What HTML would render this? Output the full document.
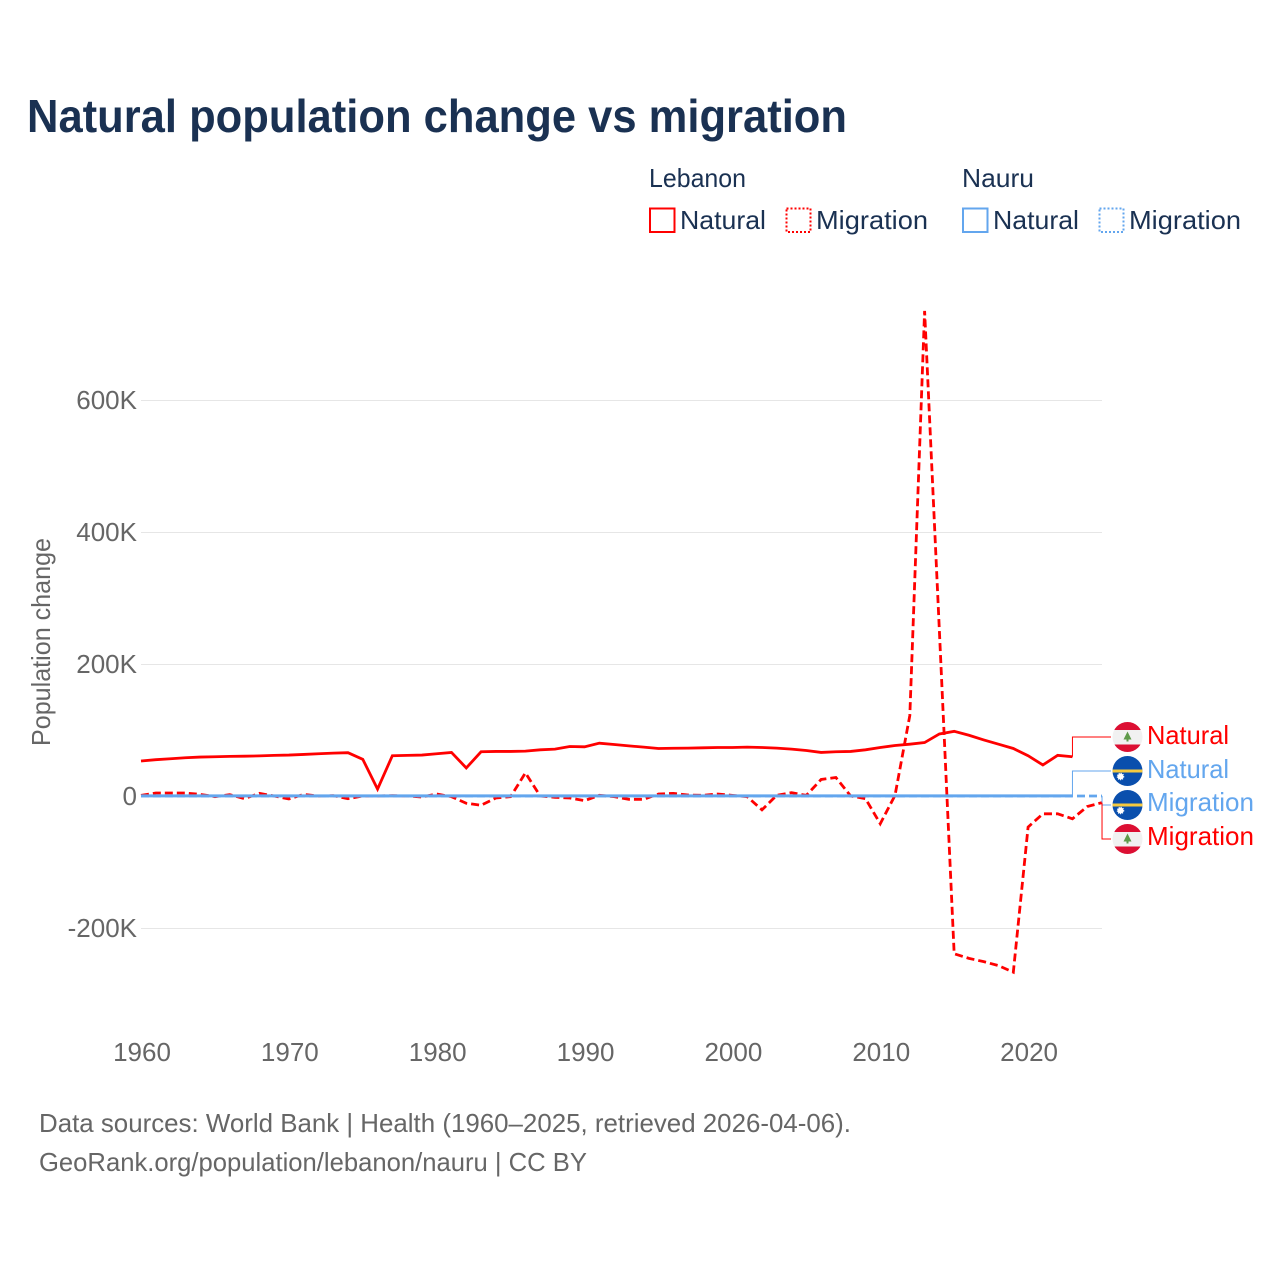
<!DOCTYPE html>
<html lang="en">
<head>
<meta charset="utf-8">
<title>Natural population change vs migration</title>
<style>
html,body{margin:0;padding:0;background:#fff;width:1280px;height:1280px;overflow:hidden}
svg{display:block}
text{font-family:"Liberation Sans",sans-serif}
</style>
</head>
<body>
<svg id="chart" width="1280" height="1280" viewBox="0 0 1280 1280" xmlns="http://www.w3.org/2000/svg">
  <defs>
    <clipPath id="flag-clip-1"><circle cx="1127.5" cy="737" r="15"/></clipPath>
    <clipPath id="flag-clip-2"><circle cx="1127.5" cy="771" r="15"/></clipPath>
    <clipPath id="flag-clip-3"><circle cx="1127.5" cy="805" r="15"/></clipPath>
    <clipPath id="flag-clip-4"><circle cx="1127.5" cy="839" r="15"/></clipPath>
  </defs>

  <text x="27" y="132" font-size="46" font-weight="700" fill="#1a3152" textLength="820" lengthAdjust="spacingAndGlyphs">Natural population change vs migration</text>

  <g font-size="26" fill="#1a3152">
    <text x="649" y="187" textLength="97" lengthAdjust="spacingAndGlyphs">Lebanon</text>
    <text x="962" y="187" textLength="72" lengthAdjust="spacingAndGlyphs">Nauru</text>
    <rect x="650" y="208.500" width="24.500" height="23.500" fill="none" stroke="#ff0000" stroke-width="2"/>
    <text x="680" y="229" textLength="86" lengthAdjust="spacingAndGlyphs">Natural</text>
    <rect x="786.500" y="208.500" width="24" height="23.500" fill="none" stroke="#ff0000" stroke-width="2" stroke-dasharray="2 2"/>
    <text x="816" y="229" textLength="112" lengthAdjust="spacingAndGlyphs">Migration</text>
    <rect x="963" y="208.500" width="24.500" height="23.500" fill="none" stroke="#63a6ee" stroke-width="2"/>
    <text x="993" y="229" textLength="86" lengthAdjust="spacingAndGlyphs">Natural</text>
    <rect x="1099.500" y="208.500" width="24" height="23.500" fill="none" stroke="#63a6ee" stroke-width="2" stroke-dasharray="2 2"/>
    <text x="1129" y="229" textLength="112" lengthAdjust="spacingAndGlyphs">Migration</text>
  </g>

  <g id="grid"></g>
  <g id="yticks"></g>
  <g id="xticks"></g>
  <text transform="translate(50,746) rotate(-90)" font-size="26" fill="#666666" textLength="208" lengthAdjust="spacingAndGlyphs">Population change</text>

  <g id="series"></g>
  <g id="connectors"></g>

  <g clip-path="url(#flag-clip-1)">
    <rect x="1112" y="721" width="31" height="32" fill="#f1f1f1"/>
    <rect x="1112" y="721" width="31" height="9" fill="#dc0f33"/>
    <rect x="1112" y="744.500" width="31" height="9" fill="#dc0f33"/>
    <path d="M1127.500 731.500l4 8h-3v2h-2v-2h-3z" fill="#5f9a4a"/>
  </g>
  <g clip-path="url(#flag-clip-2)">
    <rect x="1112" y="755" width="31" height="32" fill="#0a4fad"/>
    <rect x="1112" y="769.500" width="31" height="3" fill="#f4c93f"/>
    <circle cx="1120.500" cy="776.500" r="3" fill="#ffffff" stroke="#ffffff" stroke-width="1.500" stroke-dasharray="1 1"/>
  </g>
  <g clip-path="url(#flag-clip-3)">
    <rect x="1112" y="789" width="31" height="32" fill="#0a4fad"/>
    <rect x="1112" y="803.500" width="31" height="3" fill="#f4c93f"/>
    <circle cx="1120.500" cy="810.500" r="3" fill="#ffffff" stroke="#ffffff" stroke-width="1.500" stroke-dasharray="1 1"/>
  </g>
  <g clip-path="url(#flag-clip-4)">
    <rect x="1112" y="823" width="31" height="32" fill="#f1f1f1"/>
    <rect x="1112" y="823" width="31" height="9" fill="#dc0f33"/>
    <rect x="1112" y="846.500" width="31" height="9" fill="#dc0f33"/>
    <path d="M1127.500 833.500l4 8h-3v2h-2v-2h-3z" fill="#5f9a4a"/>
  </g>

  <g font-size="26">
    <text x="1147" y="744" fill="#ff0000" textLength="82" lengthAdjust="spacingAndGlyphs">Natural</text>
    <text x="1147" y="778" fill="#63a6ee" textLength="82" lengthAdjust="spacingAndGlyphs">Natural</text>
    <text x="1147" y="811" fill="#63a6ee" textLength="107" lengthAdjust="spacingAndGlyphs">Migration</text>
    <text x="1147" y="845" fill="#ff0000" textLength="107" lengthAdjust="spacingAndGlyphs">Migration</text>
  </g>

  <g font-size="26" fill="#666666">
    <text x="39" y="1132" textLength="812" lengthAdjust="spacingAndGlyphs">Data sources: World Bank | Health (1960–2025, retrieved 2026-04-06).</text>
    <text x="39" y="1171" textLength="548" lengthAdjust="spacingAndGlyphs">GeoRank.org/population/lebanon/nauru | CC BY</text>
  </g>
</svg>
<script>
const startYear = 1960;
const yTickValues = [-200, 0, 200, 400, 600];
const yTickLabels = ["-200K", "0", "200K", "400K", "600K"];
const xTickValues = [1960, 1970, 1980, 1990, 2000, 2010, 2020];
const xTickLabels = ["1960", "1970", "1980", "1990", "2000", "2010", "2020"];

// Population change in thousands, one value per year from 1960.
const lebanonNatural = [53,55,56.500,58,59,59.500,60,60.300,60.800,61.500,62,63,64,65,65.600,55.600,10.500,61,61.500,62,64,66,42.500,67,67.500,67.500,68,70,71,75,74.500,80,78,76,74,72,72.300,72.500,73,73.500,73.500,74,73.500,72.500,71,69,66,67,67.500,70,73.500,76.500,78.500,81,94,98,92,85,78.500,72,61,47,61.600,59.500];
const lebanonMigration = [1,4.500,4.500,4.500,2.500,-1,2,-4,4,0,-4.500,2.500,0,0.500,-4,0,0,0.500,0,-1.500,3,-1,-11,-14,-3,-1,35,0,-2,-3,-7,1,-1,-5,-5,3,4,1.500,1,3,1,-1,-21,1,5,1,25,28,0,-4,-42,1,122,735,250,-239,-246,-251,-257,-267,-47,-27,-27,-34.500,-16,-10];
const nauruNatural = [0.200,0.200,0.200,0.200,0.200,0.200,0.200,0.200,0.200,0.200,0.200,0.200,0.200,0.200,0.200,0.200,0.200,0.200,0.200,0.200,0.200,0.200,0.200,0.200,0.200,0.200,0.200,0.200,0.200,0.200,0.200,0.200,0.200,0.200,0.200,0.200,0.200,0.200,0.200,0.200,0.200,0.200,0.200,0.200,0.200,0.200,0.200,0.200,0.200,0.200,0.200,0.200,0.200,0.200,0.200,0.200,0.200,0.200,0.200,0.200,0.200,0.200,0.200,0.200];
const nauruMigration = [0,0,0,0,0,0,0,0,0,0,0,0,0,0,0,0,0,0,0,0,0,0,0,0,0,0,0,0,0,0,0,0,0,0,0,0,0,0,0,0,0,0,0,0,0,0,0,0,0,0,0,0,0,0,0,0,0,0,0,0,0,0,0,0,0,0];

const SVG_NS = "http://www.w3.org/2000/svg";
const RED = "#ff0000";
const BLUE = "#63a6ee";
function xScale(year) { return 141 + (year - 1960) * 14.785; }
function yScale(value) { return 796 - value * 0.66; }
function linePath(values) {
  return values.map(function (v, i) {
    return (i ? "L" : "M") + xScale(startYear + i).toFixed(2) + " " + yScale(v).toFixed(2);
  }).join("");
}

const gridGroup = document.getElementById("grid");
const yTickGroup = document.getElementById("yticks");
yTickValues.forEach(function (value, i) {
  if (value !== 0) {
    const rule = document.createElementNS(SVG_NS, "line");
    
    
    rule.setAttribute("x1", 141);
    rule.setAttribute("x2", 1102);
    rule.setAttribute("y1", yScale(value) + 0.5);
    rule.setAttribute("y2", yScale(value) + 0.5);
    rule.setAttribute("stroke", "#e6e6e6");
    rule.setAttribute("stroke-width", "1");
    gridGroup.appendChild(rule);
  }
  const label = document.createElementNS(SVG_NS, "text");
  
  
  label.setAttribute("x", 137);
  label.setAttribute("y", yScale(value) + 9);
  label.setAttribute("text-anchor", "end");
  label.setAttribute("font-size", "26");
  label.setAttribute("fill", "#666666");
  label.textContent = yTickLabels[i];
  yTickGroup.appendChild(label);
});

const xTickGroup = document.getElementById("xticks");
xTickValues.forEach(function (year, i) {
  const label = document.createElementNS(SVG_NS, "text");
  
  
  label.setAttribute("x", xScale(year) + 1);
  label.setAttribute("y", 1061);
  label.setAttribute("text-anchor", "middle");
  label.setAttribute("font-size", "26");
  label.setAttribute("fill", "#666666");
  label.textContent = xTickLabels[i];
  xTickGroup.appendChild(label);
});

const seriesGroup = document.getElementById("series");

const lebanonMigrationLine = document.createElementNS(SVG_NS, "path");


lebanonMigrationLine.setAttribute("d", linePath(lebanonMigration));
lebanonMigrationLine.setAttribute("fill", "none");
lebanonMigrationLine.setAttribute("stroke", RED);
lebanonMigrationLine.setAttribute("stroke-width", "2.800");
lebanonMigrationLine.setAttribute("stroke-dasharray", "8 4");
seriesGroup.appendChild(lebanonMigrationLine);

const lebanonNaturalLine = document.createElementNS(SVG_NS, "path");


lebanonNaturalLine.setAttribute("d", linePath(lebanonNatural));
lebanonNaturalLine.setAttribute("fill", "none");
lebanonNaturalLine.setAttribute("stroke", RED);
lebanonNaturalLine.setAttribute("stroke-width", "2.800");
seriesGroup.appendChild(lebanonNaturalLine);

const nauruMigrationLine = document.createElementNS(SVG_NS, "path");


nauruMigrationLine.setAttribute("d", linePath(nauruMigration));
nauruMigrationLine.setAttribute("fill", "none");
nauruMigrationLine.setAttribute("stroke", BLUE);
nauruMigrationLine.setAttribute("stroke-width", "2.800");
nauruMigrationLine.setAttribute("stroke-dasharray", "8 4");
seriesGroup.appendChild(nauruMigrationLine);

const nauruNaturalLine = document.createElementNS(SVG_NS, "path");


nauruNaturalLine.setAttribute("d", linePath(nauruNatural));
nauruNaturalLine.setAttribute("fill", "none");
nauruNaturalLine.setAttribute("stroke", BLUE);
nauruNaturalLine.setAttribute("stroke-width", "3");
seriesGroup.appendChild(nauruNaturalLine);

// Elbow connectors run from each series' last point to its flag.
function elbow(values, labelY) {
  const last = values.length - 1;
  const px = xScale(startYear + last);
  return "M" + px + " " + yScale(values[last]) + "V" + labelY + "H1111";
}
const connectorGroup = document.getElementById("connectors");

const connectorA = document.createElementNS(SVG_NS, "path");


connectorA.setAttribute("d", elbow(lebanonNatural, 737));
connectorA.setAttribute("fill", "none");
connectorA.setAttribute("stroke", RED);
connectorA.setAttribute("stroke-width", "1");
connectorGroup.appendChild(connectorA);

const connectorB = document.createElementNS(SVG_NS, "path");


connectorB.setAttribute("d", elbow(nauruNatural, 771));
connectorB.setAttribute("fill", "none");
connectorB.setAttribute("stroke", BLUE);
connectorB.setAttribute("stroke-width", "1");
connectorGroup.appendChild(connectorB);

const connectorC = document.createElementNS(SVG_NS, "path");


connectorC.setAttribute("d", elbow(nauruMigration, 805));
connectorC.setAttribute("fill", "none");
connectorC.setAttribute("stroke", BLUE);
connectorC.setAttribute("stroke-width", "1");
connectorGroup.appendChild(connectorC);

const connectorD = document.createElementNS(SVG_NS, "path");


connectorD.setAttribute("d", elbow(lebanonMigration, 839));
connectorD.setAttribute("fill", "none");
connectorD.setAttribute("stroke", RED);
connectorD.setAttribute("stroke-width", "1");
connectorGroup.appendChild(connectorD);
</script>
</body>
</html>
